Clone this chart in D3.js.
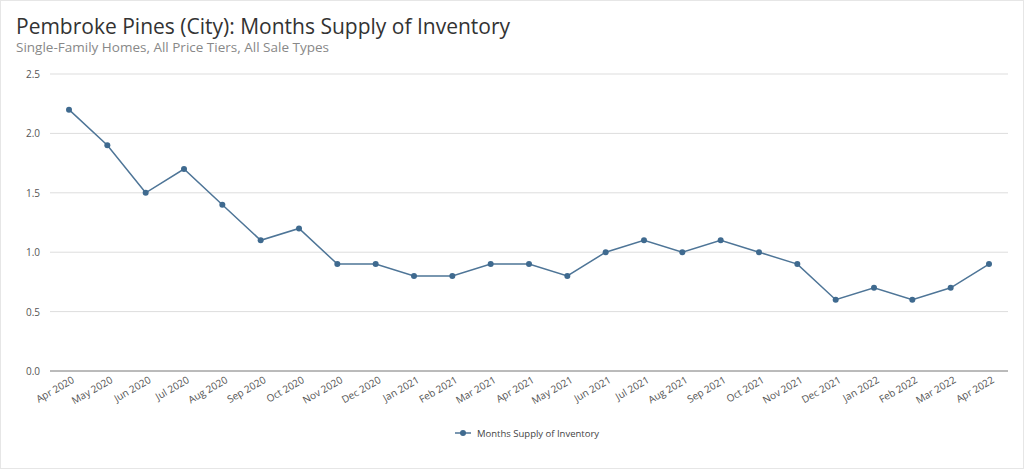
<!DOCTYPE html>
<html><head><meta charset="utf-8">
<script src="https://cdn.jsdelivr.net/npm/d3@7"></script>
<style>body{margin:0;background:#fff;font-family:"Open Sans",sans-serif}</style>
</head><body><div id="chart"></div>
<script>
const months = ["Apr 2020","May 2020","Jun 2020","Jul 2020","Aug 2020","Sep 2020","Oct 2020","Nov 2020","Dec 2020","Jan 2021","Feb 2021","Mar 2021","Apr 2021","May 2021","Jun 2021","Jul 2021","Aug 2021","Sep 2021","Oct 2021","Nov 2021","Dec 2021","Jan 2022","Feb 2022","Mar 2022","Apr 2022"];
const supply = [2.2,1.9,1.5,1.7,1.4,1.1,1.2,0.9,0.9,0.8,0.8,0.9,0.9,0.8,1.0,1.1,1.0,1.1,1.0,0.9,0.6,0.7,0.6,0.7,0.9];
const yTicks = [0,0.5,1,1.5,2,2.5];

const width = 1024, height = 469;
const svg = d3.select("#chart").append("svg").attr("width", width).attr("height", height);
svg.append("rect").attr("x",0.5).attr("y",0.5).attr("width",width-1).attr("height",height-1)
  .attr("fill","none").attr("stroke","#e6e6e6");

svg.append("text").attr("x",16).attr("y",34).text("Pembroke Pines (City): Months Supply of Inventory")
  .attr("font-size",21).attr("fill","#333");
svg.append("text").attr("x",16).attr("y",52).text("Single-Family Homes, All Price Tiers, All Sale Types")
  .attr("font-size",13.5).attr("fill","#888");

const x = d3.scalePoint().domain(months).range([69, 989]);
const y = d3.scaleLinear().domain([0, 2.5]).range([371, 74]);

svg.append("g").selectAll("line").data(yTicks).join("line")
  .attr("x1",50).attr("x2",1008).attr("y1",d=>y(d)).attr("y2",d=>y(d))
  .attr("stroke",d=>d===0?"#777":"#ddd").attr("stroke-width",1);
svg.append("g").selectAll("text").data(yTicks).join("text")
  .attr("x",40).attr("y",d=>y(d)+4).attr("text-anchor","end")
  .attr("font-size",10).attr("fill","#555").text(d3.format(".1f"));

svg.append("g").selectAll("text").data(months).join("text")
  .attr("transform",d=>`translate(${x(d)+6},${382}) rotate(-30)`)
  .attr("text-anchor","end").attr("font-size",10).attr("fill","#555").text(d=>d);

const line = d3.line().x((d,i)=>x(months[i])).y(d=>y(d));
svg.append("path").datum(supply).attr("d",line).attr("fill","none")
  .attr("stroke","#4e7597").attr("stroke-width",1.5);
svg.append("g").selectAll("circle").data(supply).join("circle")
  .attr("cx",(d,i)=>x(months[i])).attr("cy",d=>y(d)).attr("r",3).attr("fill","#3f6a8f");

const lg = svg.append("g").attr("transform","translate(455,433)");
lg.append("line").attr("x1",0).attr("x2",16).attr("stroke","#4e7597").attr("stroke-width",1.5);
lg.append("circle").attr("cx",8).attr("r",3).attr("fill","#3f6a8f");
lg.append("text").attr("x",22).attr("y",3.5).attr("font-size",9.5).attr("fill","#444").text("Months Supply of Inventory");
</script></body></html>
